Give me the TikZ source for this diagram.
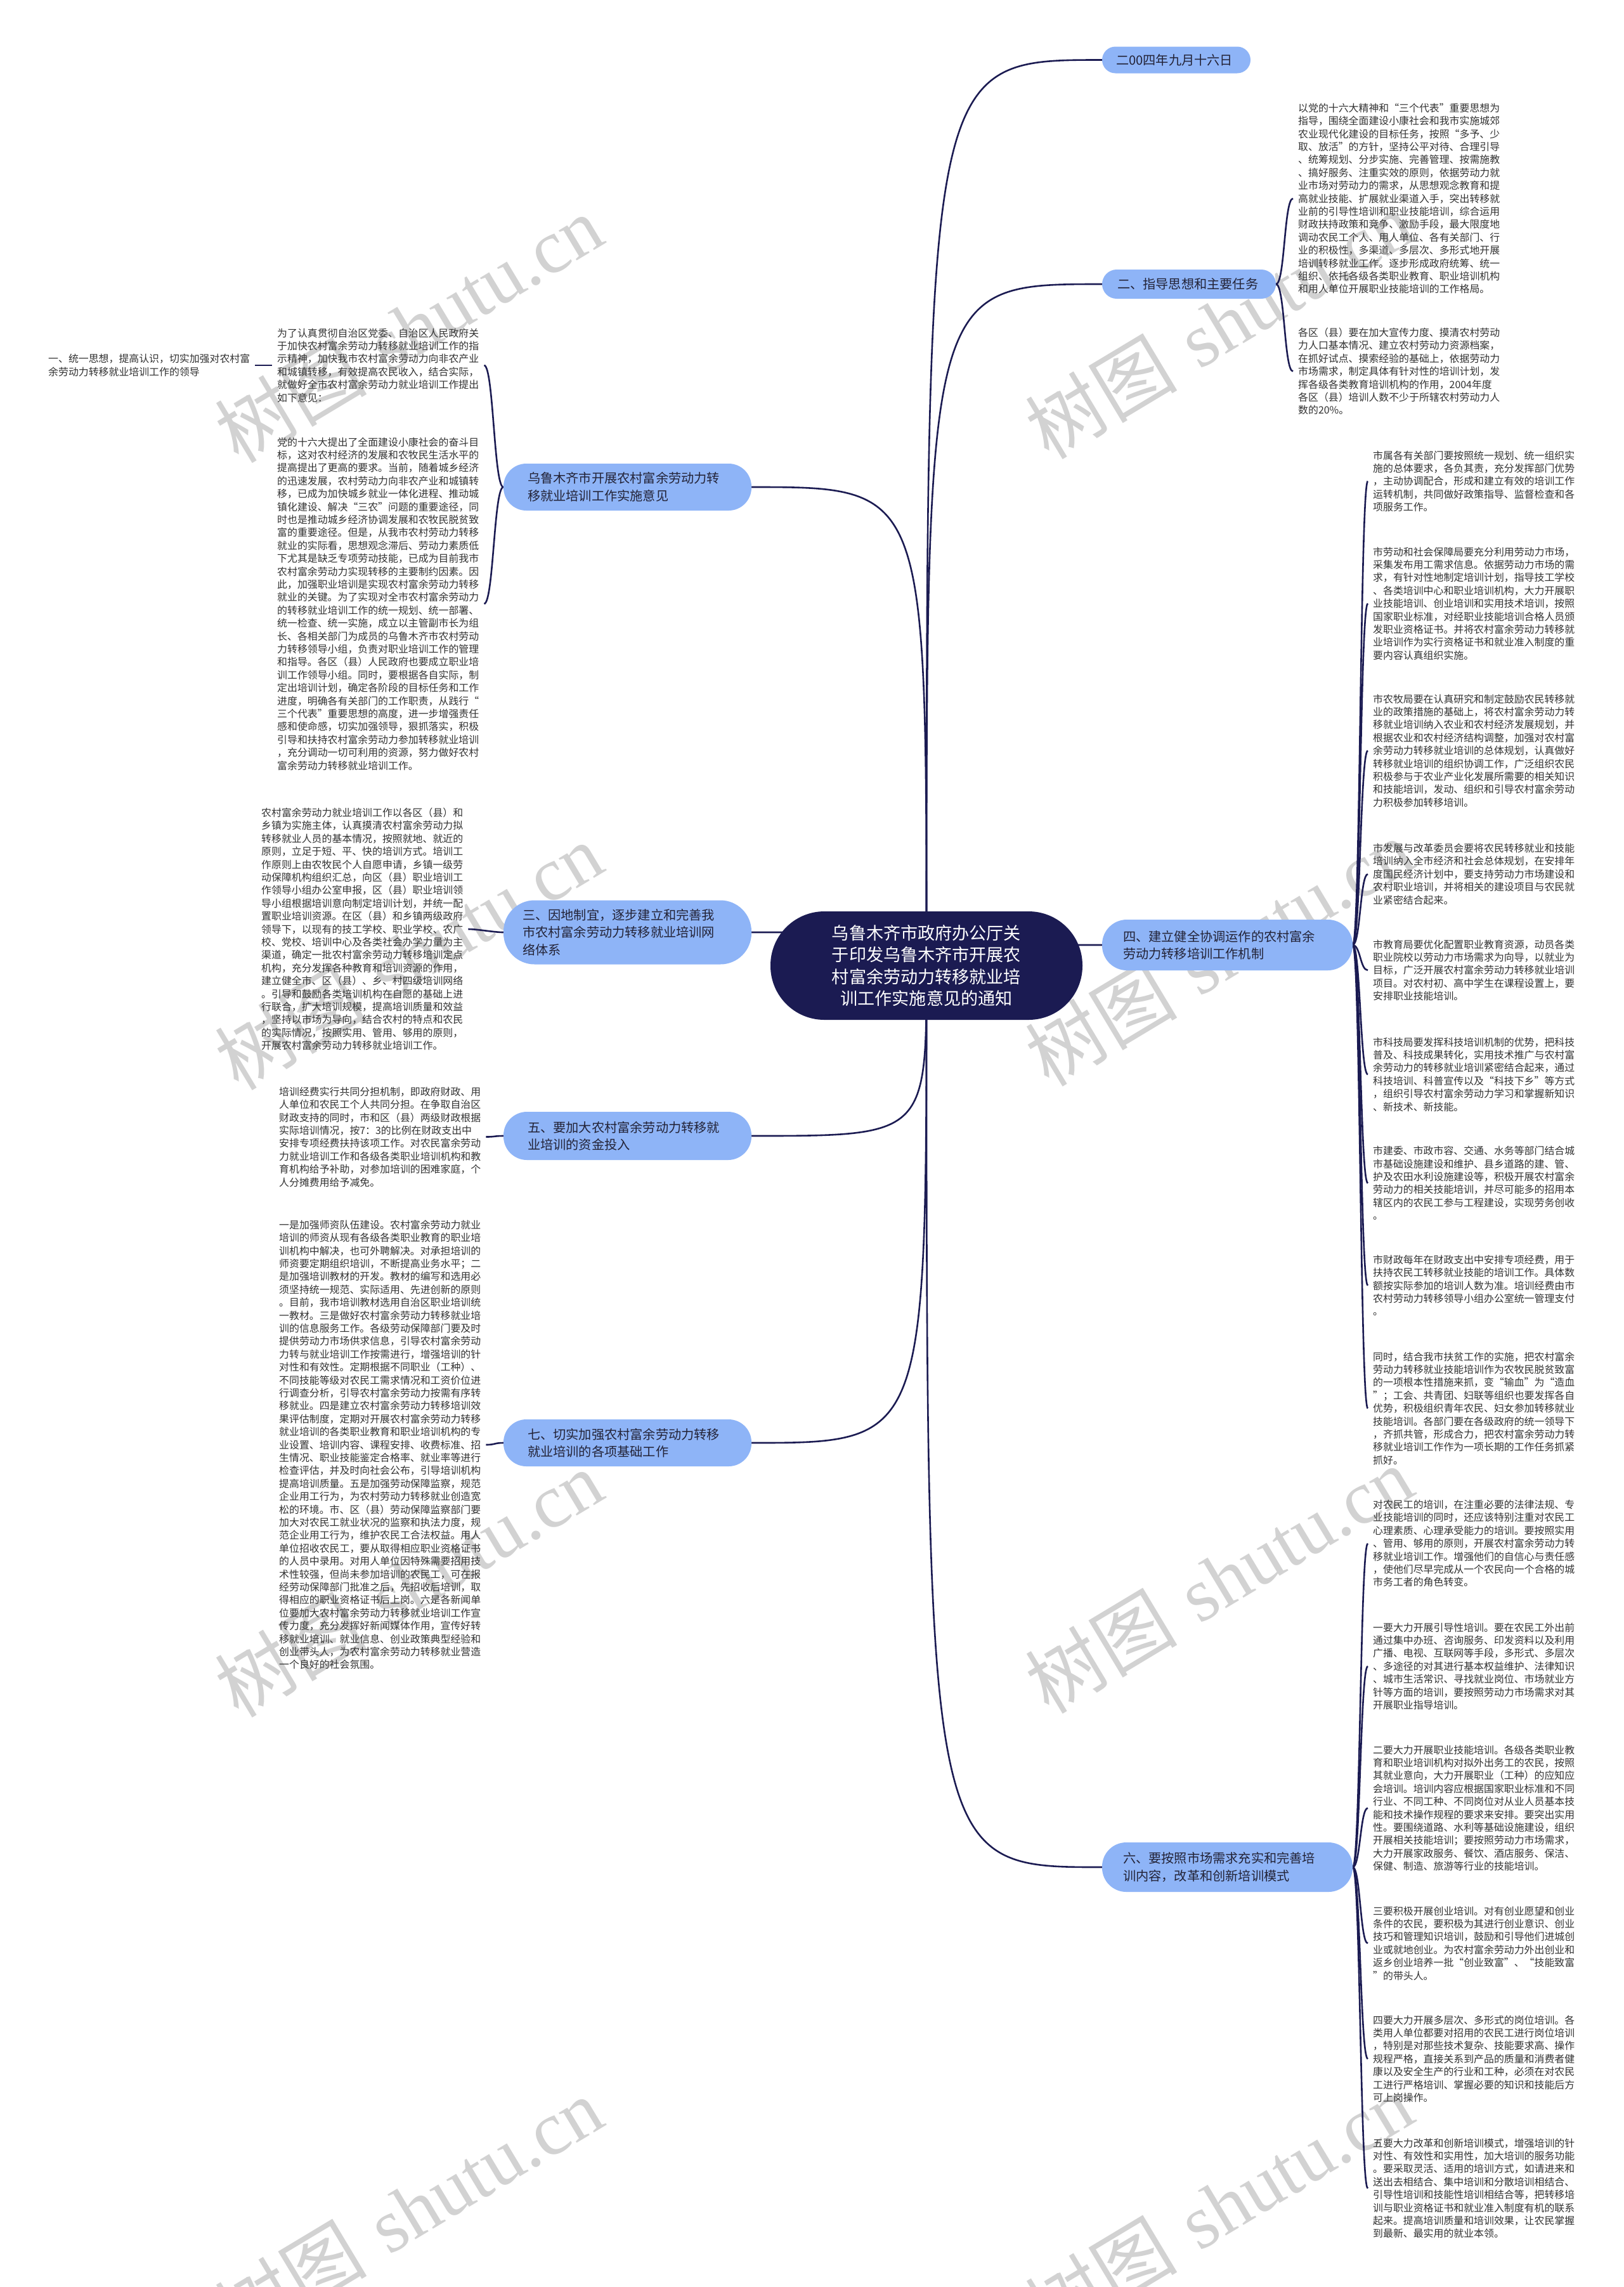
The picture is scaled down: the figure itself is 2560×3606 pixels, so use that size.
\documentclass[tikz,border=0pt]{standalone}
\usepackage{fontspec}
\newfontfamily\cjk{Noto Sans CJK SC}
\newfontfamily\wmlatin{Liberation Serif}
\definecolor{navy}{RGB}{27,27,82}
\definecolor{brfill}{RGB}{142,180,247}
\definecolor{brtext}{RGB}{35,35,55}
\definecolor{txtc}{RGB}{50,50,50}
\definecolor{wmc}{RGB}{210,210,210}
\pgfdeclarelayer{wmlayer}
\pgfdeclarelayer{bglayer}
\pgfsetlayers{wmlayer,bglayer,main}
\tikzset{
  conn/.style={draw=navy, line width=2.6pt},
  txt/.style={font=\cjk\fontsize{15.9}{20.4}\selectfont, align=left, inner xsep=8pt, inner ysep=2pt, text=txtc, anchor=west},
  br/.style={fill=brfill, text=brtext, align=left, inner ysep=0pt, font=\cjk\fontsize{20.2}{27.5}\selectfont},
  rootbox/.style={fill=navy, text=white, minimum width=492pt, minimum height=171pt, rounded corners=85pt, align=center, inner sep=0pt, font=\cjk\fontsize{27.1}{34.4}\selectfont},
  wm/.style={text=wmc, rotate=31, inner sep=0pt, font=\fontsize{120}{120}\selectfont}
}
\begin{document}
\begin{tikzpicture}[x=1pt,y=-1pt]
\useasboundingbox (0,0) rectangle (2560,3606);
\begin{pgfonlayer}{wmlayer}
\fill[white] (0,0) rectangle (2560,3606);
\foreach \wy in {518,1507,2496,3485}{
  \node[wm] at (644,\wy) {{\cjk 树图} {\wmlatin shutu.cn}};
  \node[wm] at (1922,\wy-6) {{\cjk 树图} {\wmlatin shutu.cn}};
}
\end{pgfonlayer}

% root
\node[rootbox] (root) at (1461,1522.5) {乌鲁木齐市政府办公厅关\\于印发乌鲁木齐市开展农\\村富余劳动力转移就业培\\训工作实施意见的通知};

% right branches
\node[br, minimum width=234pt, minimum height=42pt, text width=190pt, inner xsep=22pt, rounded corners=21pt] (date) at (1855,94.5) {二00四年九月十六日};
\node[br, minimum width=274pt, minimum height=46pt, text width=226pt, inner xsep=24pt, rounded corners=23pt] (er) at (1875,448) {二、指导思想和主要任务};
\node[br, minimum width=395pt, minimum height=80pt, text width=329pt, inner xsep=33pt, rounded corners=39pt] (si) at (1935.5,1490) {四、建立健全协调运作的农村富余\\劳动力转移培训工作机制};
\node[br, minimum width=395pt, minimum height=78pt, text width=329pt, inner xsep=33pt, rounded corners=38pt] (liu) at (1935.5,2944) {六、要按照市场需求充实和完善培\\训内容，改革和创新培训模式};

% left branches
\node[br, minimum width=391pt, minimum height=74pt, text width=315pt, inner xsep=38pt, rounded corners=36pt] (wu) at (989.5,768) {乌鲁木齐市开展农村富余劳动力转\\移就业培训工作实施意见};
\node[br, minimum width=391pt, minimum height=101pt, text width=331pt, inner xsep=30pt, rounded corners=49pt] (san) at (989.5,1470) {三、因地制宜，逐步建立和完善我\\市农村富余劳动力转移就业培训网\\络体系};
\node[br, minimum width=391pt, minimum height=76pt, text width=315pt, inner xsep=38pt, rounded corners=37pt] (wu5) at (989.5,1791) {五、要加大农村富余劳动力转移就\\业培训的资金投入};
\node[br, minimum width=391pt, minimum height=74pt, text width=315pt, inner xsep=38pt, rounded corners=36pt] (qi) at (989.5,2275) {七、切实加强农村富余劳动力转移\\就业培训的各项基础工作};

% ---- right texts of 二
\node[txt] (t2a) at (2039,313) {以党的十六大精神和“三个代表”重要思想为\\%
指导，围绕全面建设小康社会和我市实施城郊\\%
农业现代化建设的目标任务，按照“多予、少\\%
取、放活”的方针，坚持公平对待、合理引导\\%
、统筹规划、分步实施、完善管理、按需施教\\%
、搞好服务、注重实效的原则，依据劳动力就\\%
业市场对劳动力的需求，从思想观念教育和提\\%
高就业技能、扩展就业渠道入手，突出转移就\\%
业前的引导性培训和职业技能培训，综合运用\\%
财政扶持政策和竞争、激励手段，最大限度地\\%
调动农民工个人、用人单位、各有关部门、行\\%
业的积极性，多渠道、多层次、多形式地开展\\%
培训转移就业工作。逐步形成政府统筹、统一\\%
组织、依托各级各类职业教育、职业培训机构\\%
和用人单位开展职业技能培训的工作格局。};
\node[txt] (t2b) at (2039,585.5) {各区（县）要在加大宣传力度、摸清农村劳动\\%
力人口基本情况、建立农村劳动力资源档案，\\%
在抓好试点、摸索经验的基础上，依据劳动力\\%
市场需求，制定具体有针对性的培训计划，发\\%
挥各级各类教育培训机构的作用，2004年度\\%
各区（县）培训人数不少于所辖农村劳动力人\\%
数的20\%。};

% ---- texts of 四
\node[txt] (t4a) at (2157,758.8) {市属各有关部门要按照统一规划、统一组织实\\%
施的总体要求，各负其责，充分发挥部门优势\\%
，主动协调配合，形成和建立有效的培训工作\\%
运转机制，共同做好政策指导、监督检查和各\\%
项服务工作。};
\node[txt] (t4b) at (2157,951.6) {市劳动和社会保障局要充分利用劳动力市场，\\%
采集发布用工需求信息。依据劳动力市场的需\\%
求，有针对性地制定培训计划，指导技工学校\\%
、各类培训中心和职业培训机构，大力开展职\\%
业技能培训、创业培训和实用技术培训，按照\\%
国家职业标准，对经职业技能培训合格人员颁\\%
发职业资格证书。并将农村富余劳动力转移就\\%
业培训作为实行资格证书和就业准入制度的重\\%
要内容认真组织实施。};
\node[txt] (t4c) at (2157,1183.6) {市农牧局要在认真研究和制定鼓励农民转移就\\%
业的政策措施的基础上，将农村富余劳动力转\\%
移就业培训纳入农业和农村经济发展规划，并\\%
根据农业和农村经济结构调整，加强对农村富\\%
余劳动力转移就业培训的总体规划，认真做好\\%
转移就业培训的组织协调工作，广泛组织农民\\%
积极参与于农业产业化发展所需要的相关知识\\%
和技能培训，发动、组织和引导农村富余劳动\\%
力积极参加转移培训。};
\node[txt] (t4d) at (2157,1378.3) {市发展与改革委员会要将农民转移就业和技能\\%
培训纳入全市经济和社会总体规划，在安排年\\%
度国民经济计划中，要支持劳动力市场建设和\\%
农村职业培训，并将相关的建设项目与农民就\\%
业紧密结合起来。};
\node[txt] (t4e) at (2157,1529.8) {市教育局要优化配置职业教育资源，动员各类\\%
职业院校以劳动力市场需求为向导，以就业为\\%
目标，广泛开展农村富余劳动力转移就业培训\\%
项目。对农村初、高中学生在课程设置上，要\\%
安排职业技能培训。};
\node[txt] (t4f) at (2157,1694) {市科技局要发挥科技培训机制的优势，把科技\\%
普及、科技成果转化，实用技术推广与农村富\\%
余劳动力的转移就业培训紧密结合起来，通过\\%
科技培训、科普宣传以及“科技下乡”等方式\\%
，组织引导农村富余劳动力学习和掌握新知识\\%
、新技术、新技能。};
\node[txt] (t4g) at (2157,1865.5) {市建委、市政市容、交通、水务等部门结合城\\%
市基础设施建设和维护、县乡道路的建、管、\\%
护及农田水利设施建设等，积极开展农村富余\\%
劳动力的相关技能培训，并尽可能多的招用本\\%
辖区内的农民工参与工程建设，实现劳务创收\\%
。};
\node[txt] (t4h) at (2157,2026.8) {市财政每年在财政支出中安排专项经费，用于\\%
扶持农民工转移就业技能的培训工作。具体数\\%
额按实际参加的培训人数为准。培训经费由市\\%
农村劳动力转移领导小组办公室统一管理支付\\%
。};
\node[txt] (t4i) at (2157,2220.6) {同时，结合我市扶贫工作的实施，把农村富余\\%
劳动力转移就业技能培训作为农牧民脱贫致富\\%
的一项根本性措施来抓，变“输血”为“造血\\%
”；工会、共青团、妇联等组织也要发挥各自\\%
优势，积极组织青年农民、妇女参加转移就业\\%
技能培训。各部门要在各级政府的统一领导下\\%
，齐抓共管，形成合力，把农村富余劳动力转\\%
移就业培训工作作为一项长期的工作任务抓紧\\%
抓好。};

% ---- texts of 六
\node[txt] (t6a) at (2157,2433.7) {对农民工的培训，在注重必要的法律法规、专\\%
业技能培训的同时，还应该特别注重对农民工\\%
心理素质、心理承受能力的培训。要按照实用\\%
、管用、够用的原则，开展农村富余劳动力转\\%
移就业培训工作。增强他们的自信心与责任感\\%
，使他们尽早完成从一个农民向一个合格的城\\%
市务工者的角色转变。};
\node[txt] (t6b) at (2157,2627.2) {一要大力开展引导性培训。要在农民工外出前\\%
通过集中办班、咨询服务、印发资料以及利用\\%
广播、电视、互联网等手段，多形式、多层次\\%
、多途径的对其进行基本权益维护、法律知识\\%
、城市生活常识、寻找就业岗位、市场就业方\\%
针等方面的培训，要按照劳动力市场需求对其\\%
开展职业指导培训。};
\node[txt] (t6c) at (2157,2850.8) {二要大力开展职业技能培训。各级各类职业教\\%
育和职业培训机构对拟外出务工的农民，按照\\%
其就业意向，大力开展职业（工种）的应知应\\%
会培训。培训内容应根据国家职业标准和不同\\%
行业、不同工种、不同岗位对从业人员基本技\\%
能和技术操作规程的要求来安排。要突出实用\\%
性。要围绕道路、水利等基础设施建设，组织\\%
开展相关技能培训；要按照劳动力市场需求，\\%
大力开展家政服务、餐饮、酒店服务、保洁、\\%
保健、制造、旅游等行业的技能培训。};
\node[txt] (t6d) at (2157,3064) {三要积极开展创业培训。对有创业愿望和创业\\%
条件的农民，要积极为其进行创业意识、创业\\%
技巧和管理知识培训，鼓励和引导他们进城创\\%
业或就地创业。为农村富余劳动力外出创业和\\%
返乡创业培养一批“创业致富”、“技能致富\\%
”的带头人。};
\node[txt] (t6e) at (2157,3246.2) {四要大力开展多层次、多形式的岗位培训。各\\%
类用人单位都要对招用的农民工进行岗位培训\\%
，特别是对那些技术复杂、技能要求高、操作\\%
规程严格，直接关系到产品的质量和消费者健\\%
康以及安全生产的行业和工种，必须在对农民\\%
工进行严格培训、掌握必要的知识和技能后方\\%
可上岗操作。};
\node[txt] (t6f) at (2157,3450.4) {五要大力改革和创新培训模式，增强培训的针\\%
对性、有效性和实用性，加大培训的服务功能\\%
。要采取灵活、适用的培训方式，如请进来和\\%
送出去相结合、集中培训和分散培训相结合、\\%
引导性培训和技能性培训相结合等，把转移培\\%
训与职业资格证书和就业准入制度有机的联系\\%
起来。提高培训质量和培训效果，让农民掌握\\%
到最新、最实用的就业本领。};

% ---- left texts
\node[txt] (l2) at (429,576) {为了认真贯彻自治区党委、自治区人民政府关\\%
于加快农村富余劳动力转移就业培训工作的指\\%
示精神，加快我市农村富余劳动力向非农产业\\%
和城镇转移，有效提高农民收入，结合实际，\\%
就做好全市农村富余劳动力就业培训工作提出\\%
如下意见：};
\node[txt] (l1) at (68,576) {一、统一思想，提高认识，切实加强对农村富\\%
余劳动力转移就业培训工作的领导};
\node[txt] (l3) at (429,952) {党的十六大提出了全面建设小康社会的奋斗目\\%
标，这对农村经济的发展和农牧民生活水平的\\%
提高提出了更高的要求。当前，随着城乡经济\\%
的迅速发展，农村劳动力向非农产业和城镇转\\%
移，已成为加快城乡就业一体化进程、推动城\\%
镇化建设、解决“三农”问题的重要途径，同\\%
时也是推动城乡经济协调发展和农牧民脱贫致\\%
富的重要途径。但是，从我市农村劳动力转移\\%
就业的实际看，思想观念滞后、劳动力素质低\\%
下尤其是缺乏专项劳动技能，已成为目前我市\\%
农村富余劳动力实现转移的主要制约因素。因\\%
此，加强职业培训是实现农村富余劳动力转移\\%
就业的关键。为了实现对全市农村富余劳动力\\%
的转移就业培训工作的统一规划、统一部署、\\%
统一检查、统一实施，成立以主管副市长为组\\%
长、各相关部门为成员的乌鲁木齐市农村劳动\\%
力转移领导小组，负责对职业培训工作的管理\\%
和指导。各区（县）人民政府也要成立职业培\\%
训工作领导小组。同时，要根据各自实际，制\\%
定出培训计划，确定各阶段的目标任务和工作\\%
进度，明确各有关部门的工作职责，从践行“\\%
三个代表”重要思想的高度，进一步增强责任\\%
感和使命感，切实加强领导，狠抓落实，积极\\%
引导和扶持农村富余劳动力参加转移就业培训\\%
，充分调动一切可利用的资源，努力做好农村\\%
富余劳动力转移就业培训工作。};
\node[txt] (l4) at (404,1465) {农村富余劳动力就业培训工作以各区（县）和\\%
乡镇为实施主体，认真摸清农村富余劳动力拟\\%
转移就业人员的基本情况，按照就地、就近的\\%
原则，立足于短、平、快的培训方式。培训工\\%
作原则上由农牧民个人自愿申请，乡镇一级劳\\%
动保障机构组织汇总，向区（县）职业培训工\\%
作领导小组办公室申报，区（县）职业培训领\\%
导小组根据培训意向制定培训计划，并统一配\\%
置职业培训资源。在区（县）和乡镇两级政府\\%
领导下，以现有的技工学校、职业学校、农广\\%
校、党校、培训中心及各类社会办学力量为主\\%
渠道，确定一批农村富余劳动力转移培训定点\\%
机构，充分发挥各种教育和培训资源的作用，\\%
建立健全市、区（县）、乡、村四级培训网络\\%
。引导和鼓励各类培训机构在自愿的基础上进\\%
行联合，扩大培训规模，提高培训质量和效益\\%
，坚持以市场为导向，结合农村的特点和农民\\%
的实际情况，按照实用、管用、够用的原则，\\%
开展农村富余劳动力转移就业培训工作。};
\node[txt] (l5) at (432,1792.5) {培训经费实行共同分担机制，即政府财政、用\\%
人单位和农民工个人共同分担。在争取自治区\\%
财政支持的同时，市和区（县）两级财政根据\\%
实际培训情况，按7：3的比例在财政支出中\\%
安排专项经费扶持该项工作。对农民富余劳动\\%
力就业培训工作和各级各类职业培训机构和教\\%
育机构给予补助，对参加培训的困难家庭，个\\%
人分摊费用给予减免。};
\node[txt] (l7) at (432,2278) {一是加强师资队伍建设。农村富余劳动力就业\\%
培训的师资从现有各级各类职业教育的职业培\\%
训机构中解决，也可外聘解决。对承担培训的\\%
师资要定期组织培训，不断提高业务水平；二\\%
是加强培训教材的开发。教材的编写和选用必\\%
须坚持统一规范、实际适用、先进创新的原则\\%
。目前，我市培训教材选用自治区职业培训统\\%
一教材。三是做好农村富余劳动力转移就业培\\%
训的信息服务工作。各级劳动保障部门要及时\\%
提供劳动力市场供求信息，引导农村富余劳动\\%
力转与就业培训工作按需进行，增强培训的针\\%
对性和有效性。定期根据不同职业（工种）、\\%
不同技能等级对农民工需求情况和工资价位进\\%
行调查分析，引导农村富余劳动力按需有序转\\%
移就业。四是建立农村富余劳动力转移培训效\\%
果评估制度，定期对开展农村富余劳动力转移\\%
就业培训的各类职业教育和职业培训机构的专\\%
业设置、培训内容、课程安排、收费标准、招\\%
生情况、职业技能鉴定合格率、就业率等进行\\%
检查评估，并及时向社会公布，引导培训机构\\%
提高培训质量。五是加强劳动保障监察，规范\\%
企业用工行为，为农村劳动力转移就业创造宽\\%
松的环境。市、区（县）劳动保障监察部门要\\%
加大对农民工就业状况的监察和执法力度，规\\%
范企业用工行为，维护农民工合法权益。用人\\%
单位招收农民工，要从取得相应职业资格证书\\%
的人员中录用。对用人单位因特殊需要招用技\\%
术性较强，但尚未参加培训的农民工，可在报\\%
经劳动保障部门批准之后，先招收后培训，取\\%
得相应的职业资格证书后上岗。六是各新闻单\\%
位要加大农村富余劳动力转移就业培训工作宣\\%
传力度，充分发挥好新闻媒体作用，宣传好转\\%
移就业培训、就业信息、创业政策典型经验和\\%
创业带头人，为农村富余劳动力转移就业营造\\%
一个良好的社会氛围。};

% ---- connectors
\begin{pgfonlayer}{bglayer}
\foreach \b in {date,er,si,liu}{
  \draw[conn] (root.center) .. controls (root.center |- \b.west) .. (\b.west);
}
\foreach \b in {wu,san,wu5,qi}{
  \draw[conn] (root.center) .. controls (root.center |- \b.east) .. (\b.east);
}
\foreach \c in {t2a,t2b}{
  \draw[conn] (er.east) .. controls +(14pt,0pt) and +(-14pt,0pt) .. (\c.west);
}
\foreach \c in {t4a,t4b,t4c,t4d,t4e,t4f,t4g,t4h,t4i}{
  \draw[conn] (si.east) .. controls +(12pt,0pt) and +(-12pt,0pt) .. (\c.west);
}
\foreach \c in {t6a,t6b,t6c,t6d,t6e,t6f}{
  \draw[conn] (liu.east) .. controls +(12pt,0pt) and +(-12pt,0pt) .. (\c.west);
}
\foreach \c in {l2,l3}{
  \draw[conn] (wu.west) .. controls +(-15pt,0pt) and +(15pt,0pt) .. (\c.east);
}
\draw[conn] (l2.west) -- (l1.east);
\draw[conn] (san.west) .. controls +(-15pt,0pt) and +(15pt,0pt) .. (l4.east);
\draw[conn] (wu5.west) .. controls +(-15pt,0pt) and +(15pt,0pt) .. (l5.east);
\draw[conn] (qi.west) .. controls +(-15pt,0pt) and +(15pt,0pt) .. (l7.east);
\end{pgfonlayer}
\end{tikzpicture}
\end{document}
